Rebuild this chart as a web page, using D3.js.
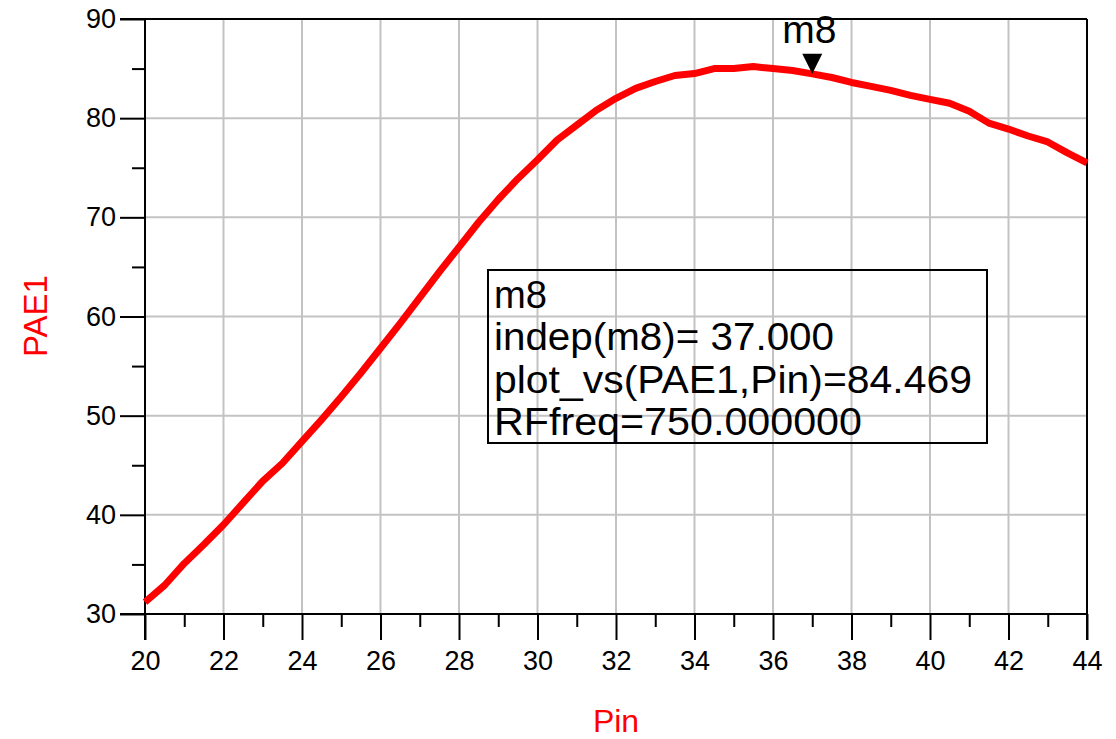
<!DOCTYPE html>
<html><head><meta charset="utf-8">
<script src="https://cdn.jsdelivr.net/npm/d3@7"></script>
<style>body{margin:0;background:#fff;} svg{display:block;}</style>
</head><body>
<script>
const pin = [20,20.5,21,21.5,22,22.5,23,23.5,24,24.5,25,25.5,26,26.5,27,27.5,28,28.5,29,29.5,30,30.5,31,31.5,32,32.5,33,33.5,34,34.5,35,35.5,36,36.5,37,37.5,38,38.5,39,39.5,40,40.5,41,41.5,42,42.5,43,43.5,44];
const pae = [31.2,32.9,35.1,37.0,39.0,41.2,43.4,45.2,47.4,49.6,51.9,54.3,56.8,59.3,61.9,64.5,67.0,69.5,71.8,73.9,75.8,77.8,79.3,80.8,82.0,83.0,83.7,84.3,84.5,85.0,85.0,85.2,85.0,84.8,84.469,84.1,83.6,83.2,82.8,82.3,81.9,81.5,80.7,79.5,78.9,78.2,77.6,76.5,75.5];
const xTicks = [20,22,24,26,28,30,32,34,36,38,40,42,44];
const yTicks = [30,40,50,60,70,80,90];
const markerName = "m8";
const markerX = 37;
const markerY = 84.469;
const markerLines = ["m8","indep(m8)= 37.000","plot_vs(PAE1,Pin)=84.469","RFfreq=750.000000"];

const W=1116,H=739;
const L=145,R=1087,T=19,B=614;
const svg=d3.select("body").append("svg").attr("width",W).attr("height",H)
  .style("font-family","'Liberation Sans', Arial, sans-serif");
const x=d3.scaleLinear().domain([20,44]).range([L,R]);
const y=d3.scaleLinear().domain([30,90]).range([B,T]);

// grid
svg.append("g").selectAll("line").data(xTicks.filter(v=>v>20&&v<44)).join("line")
  .attr("x1",d=>x(d)).attr("x2",d=>x(d)).attr("y1",T).attr("y2",B)
  .attr("stroke","#c3c3c3").attr("stroke-width",2);
svg.append("g").selectAll("line").data(yTicks.filter(v=>v>30&&v<90)).join("line")
  .attr("x1",L).attr("x2",R).attr("y1",d=>y(d)).attr("y2",d=>y(d))
  .attr("stroke","#c3c3c3").attr("stroke-width",2);

// axes
const ax=svg.append("g").attr("transform",`translate(0,${B})`)
  .call(d3.axisBottom(x).tickValues(xTicks).tickSize(26).tickSizeOuter(0).tickPadding(6).tickFormat(d3.format("d")));
const axm=svg.append("g").attr("transform",`translate(0,${B})`)
  .call(d3.axisBottom(x).tickValues(d3.range(21,44,2)).tickSize(13).tickFormat(""));
const ay=svg.append("g").attr("transform",`translate(${L},0)`)
  .call(d3.axisLeft(y).tickValues(yTicks).tickSize(25).tickSizeOuter(0).tickPadding(4).tickFormat(d3.format("d")));
const aym=svg.append("g").attr("transform",`translate(${L},0)`)
  .call(d3.axisLeft(y).tickValues(d3.range(35,90,10)).tickSize(13).tickFormat(""));
[ax,axm,ay,aym].forEach(g=>{g.select(".domain").remove();g.selectAll("line").attr("stroke","#000").attr("stroke-width",2);
  g.selectAll("text").attr("font-size",27).attr("fill","#000").attr("font-family","'Liberation Sans', Arial, sans-serif");});
ax.selectAll("text").attr("dy",null).attr("y",56);
ay.selectAll("text").attr("x",-29);

// frame
svg.append("line").attr("x1",120).attr("x2",R).attr("y1",B).attr("y2",B).attr("stroke","#000").attr("stroke-width",2);
svg.append("line").attr("x1",120).attr("x2",R).attr("y1",T).attr("y2",T).attr("stroke","#000").attr("stroke-width",2);
svg.append("line").attr("x1",L).attr("x2",L).attr("y1",T).attr("y2",640).attr("stroke","#000").attr("stroke-width",2);
svg.append("line").attr("x1",R).attr("x2",R).attr("y1",T).attr("y2",640).attr("stroke","#000").attr("stroke-width",2);

// curve
svg.append("path").datum(pin.map((p,i)=>[p,pae[i]]))
  .attr("d",d3.line().x(d=>x(d[0])).y(d=>y(d[1])))
  .attr("fill","none").attr("stroke","#ff0000").attr("stroke-width",7).attr("stroke-linejoin","round");

// marker
const mx=x(markerX), my=y(markerY);
svg.append("path").attr("d",`M${mx-10},${my-20}L${mx+10},${my-20}L${mx},${my}Z`).attr("fill","#000");
svg.append("text").attr("x",mx-3).attr("y",43).attr("text-anchor","middle").attr("font-size",39).text(markerName);

// marker box
svg.append("rect").attr("x",488).attr("y",270).attr("width",499).attr("height",173)
  .attr("fill","none").attr("stroke","#000").attr("stroke-width",2);
const lens=[53,340,478,368];
svg.append("g").selectAll("text").data(markerLines).join("text")
  .attr("x",494).attr("y",(d,i)=>308+i*42.3).attr("font-size",38)
  .attr("textLength",(d,i)=>lens[i]).attr("lengthAdjust","spacingAndGlyphs").text(d=>d);

// axis titles
svg.append("text").attr("x",616).attr("y",732).attr("text-anchor","middle").attr("font-size",32).attr("fill","#ff0000").text("Pin");
svg.append("text").attr("transform","translate(47,316) rotate(-90)").attr("text-anchor","middle").attr("font-size",33).attr("fill","#ff0000").text("PAE1");
</script>
</body></html>
